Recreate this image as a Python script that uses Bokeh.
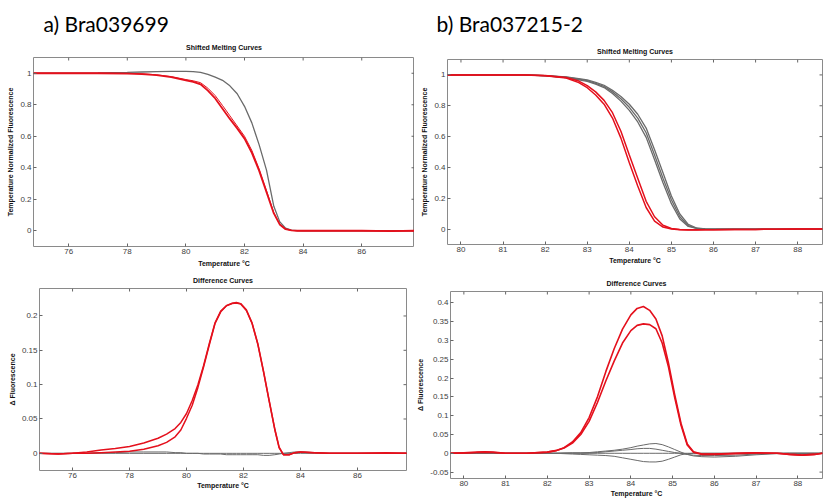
from bokeh.plotting import figure
from bokeh.layouts import row, column
from bokeh.models import FixedTicker, Title, Range1d
from bokeh.embed import file_html
from bokeh.resources import INLINE

# ---------------- data ----------------
# a) Bra039699 — shifted melting curves
a_melt_x = [74.8, 76.0, 77.0, 78.0, 78.5, 79.0, 79.5, 80.0, 80.25, 80.5, 80.75, 81.0, 81.25, 81.5,
            81.75, 82.0, 82.25, 82.5, 82.75, 83.0, 83.2, 83.4, 83.6, 83.8, 84.0, 85.0, 86.0, 87.0, 87.8]
a_melt_gray = [1.0, 1.0, 1.002, 1.005, 1.008, 1.01, 1.012, 1.012, 1.01, 1.005, 0.993, 0.975, 0.955, 0.92,
               0.87, 0.79, 0.685, 0.545, 0.385, 0.155, 0.058, 0.016, 0.004, 0.001, 0.0, 0.0, 0.0, 0.0, 0.0]
a_melt_red1 = [1.0, 1.0, 1.0, 0.998, 0.995, 0.988, 0.975, 0.955, 0.945, 0.93, 0.89, 0.84, 0.775, 0.71,
               0.65, 0.585, 0.495, 0.38, 0.245, 0.11, 0.04, 0.01, 0.002, 0.0, 0.0, 0.0, 0.0, -0.002, 0.0]
a_melt_red2 = [1.0, 1.0, 1.0, 0.999, 0.997, 0.99, 0.979, 0.96, 0.952, 0.94, 0.905, 0.858, 0.795, 0.73,
               0.665, 0.6, 0.51, 0.392, 0.255, 0.115, 0.043, 0.011, 0.002, 0.0, 0.0, 0.0, 0.0, 0.0, 0.0]

# a) Bra039699 — difference curves
a_diff_x = [74.8, 75.5, 76.0, 76.5, 77.0, 77.5, 78.0, 78.5, 79.0, 79.3, 79.6, 79.8, 80.0, 80.2, 80.4,
            80.6, 80.8, 81.0, 81.2, 81.4, 81.6, 81.75, 81.9, 82.1, 82.3, 82.5, 82.7, 82.9, 83.1, 83.25,
            83.4, 83.6, 83.8, 84.0, 84.5, 85.0, 86.0, 87.0, 87.8]
a_diff_red1 = [0.0, -0.001, 0.0, 0.002, 0.005, 0.007, 0.010, 0.015, 0.022, 0.028, 0.036, 0.045, 0.058,
               0.077, 0.1, 0.128, 0.16, 0.19, 0.207, 0.215, 0.2185, 0.2195, 0.218, 0.209, 0.19, 0.16,
               0.12, 0.077, 0.035, 0.009, -0.002, -0.002, 0.001, 0.002, 0.001, 0.0, 0.0, 0.001, 0.0]
a_diff_red2 = [0.0, -0.001, 0.0, 0.0, 0.001, 0.002, 0.003, 0.006, 0.011, 0.016, 0.024, 0.034, 0.051,
               0.07, 0.096, 0.126, 0.158, 0.189, 0.206, 0.215, 0.218, 0.219, 0.2175, 0.208, 0.189, 0.159,
               0.119, 0.076, 0.034, 0.008, -0.002, -0.002, 0.001, 0.002, 0.001, 0.0, 0.0, 0.0, 0.0]
a_diff_gray1 = [0.0] * 39
a_diff_gray2 = [0.0, 0.0, 0.0, 0.0, 0.001, 0.001, 0.002, 0.002, 0.002, 0.002, 0.001, 0.001, 0.0, 0.0,
                0.0, -0.001, -0.001, -0.001, -0.001, -0.002, -0.002, -0.002, -0.002, -0.002, -0.002,
                -0.002, -0.003, -0.003, -0.002, -0.001, 0.0, 0.001, 0.002, 0.002, 0.001, 0.0, 0.0, 0.0, 0.0]

# b) Bra037215-2 — shifted melting curves
b_melt_x = [79.68, 80.0, 80.5, 81.0, 81.5, 82.0, 82.5, 82.8, 83.0, 83.2, 83.4, 83.6, 83.8, 84.0, 84.2,
            84.4, 84.6, 84.8, 85.0, 85.2, 85.4, 85.6, 85.8, 86.0, 86.5, 87.0, 87.5, 88.0, 88.59]
b_melt_gray1 = [1.0, 1.0, 1.0, 1.0, 1.0, 0.994, 0.982, 0.968, 0.958, 0.94, 0.918, 0.88, 0.83, 0.77,
                0.695, 0.595, 0.45, 0.3, 0.165, 0.065, 0.017, 0.004, 0.001, 0.0, 0.0, 0.0, 0.0, 0.0, 0.0]
b_melt_gray2 = [1.0, 1.0, 1.0, 1.0, 1.0, 0.995, 0.985, 0.972, 0.963, 0.945, 0.925, 0.89, 0.845, 0.79,
                0.72, 0.625, 0.48, 0.33, 0.19, 0.08, 0.022, 0.005, 0.001, 0.0, 0.0, 0.0, 0.0, 0.0, 0.0]
b_melt_gray3 = [1.0, 1.0, 1.0, 1.0, 1.0, 0.996, 0.987, 0.976, 0.968, 0.952, 0.933, 0.9, 0.86, 0.81,
                0.745, 0.655, 0.515, 0.365, 0.215, 0.098, 0.03, 0.007, 0.002, 0.0, 0.0, 0.0, 0.0, 0.0, 0.0]
b_melt_red1 = [1.0, 1.0, 1.0, 1.0, 1.0, 0.995, 0.98, 0.95, 0.917, 0.87, 0.81, 0.72, 0.59, 0.43,
               0.28, 0.14, 0.052, 0.013, 0.0, -0.004, -0.006, -0.006, -0.005, -0.004, -0.003, -0.002,
               -0.001, 0.0, 0.0]
b_melt_red2 = [1.0, 1.0, 1.0, 1.0, 1.0, 0.997, 0.983, 0.96, 0.93, 0.89, 0.835, 0.755, 0.635, 0.48,
               0.33, 0.18, 0.08, 0.025, 0.004, -0.003, -0.005, -0.005, -0.004, -0.004, -0.003, -0.002,
               -0.001, 0.0, 0.0]

# b) Bra037215-2 — difference curves
b_diff_x = [79.68, 80.0, 80.3, 80.5, 80.7, 81.0, 81.5, 82.0, 82.2, 82.4, 82.6, 82.8, 83.0, 83.2, 83.4,
            83.6, 83.8, 84.0, 84.15, 84.3, 84.45, 84.6, 84.75, 84.9, 85.05, 85.2, 85.35, 85.5, 85.7,
            86.0, 86.5, 87.0, 87.5, 87.8, 88.1, 88.4, 88.59]
b_diff_red1 = [0.0, 0.001, 0.003, 0.004, 0.003, 0.0, 0.0, 0.003, 0.007, 0.015, 0.03, 0.055, 0.095,
               0.15, 0.217, 0.278, 0.33, 0.368, 0.385, 0.39, 0.38, 0.357, 0.312, 0.24, 0.156, 0.08,
               0.025, 0.004, -0.002, -0.002, 0.0, 0.001, 0.0, -0.003, -0.005, -0.003, 0.0]
b_diff_red2 = [0.0, 0.001, 0.002, 0.003, 0.002, 0.0, 0.0, 0.003, 0.007, 0.014, 0.027, 0.05, 0.085,
               0.135, 0.192, 0.245, 0.293, 0.326, 0.34, 0.344, 0.342, 0.331, 0.293, 0.23, 0.148, 0.075,
               0.022, 0.003, -0.003, -0.003, -0.001, 0.001, 0.0, -0.003, -0.005, -0.003, 0.0]
b_diff_gray1 = [0.0, 0.0, 0.0, 0.0, 0.0, 0.0, 0.0, 0.0, 0.0, 0.001, 0.001, 0.001, 0.002, 0.004, 0.006,
                0.008, 0.011, 0.015, 0.019, 0.022, 0.025, 0.026, 0.023, 0.017, 0.01, 0.003, -0.003,
                -0.007, -0.009, -0.01, -0.008, -0.004, -0.001, 0.0, 0.0, 0.0, 0.0]
b_diff_gray2 = [0.0, 0.0, 0.0, 0.0, 0.0, 0.0, 0.0, 0.0, 0.0, 0.0, 0.001, 0.001, 0.001, 0.002, 0.004,
                0.006, 0.008, 0.01, 0.012, 0.013, 0.013, 0.011, 0.008, 0.005, 0.002, 0.0, -0.003,
                -0.005, -0.006, -0.006, -0.005, -0.002, 0.0, 0.0, 0.0, 0.0, 0.0]
b_diff_gray3 = [0.0] * 37
b_diff_gray4 = [0.0, 0.0, 0.0, 0.0, 0.0, 0.0, 0.0, 0.0, 0.0, -0.001, -0.002, -0.003, -0.004, -0.005,
                -0.006, -0.008, -0.012, -0.016, -0.019, -0.022, -0.023, -0.023, -0.021, -0.016, -0.01,
                -0.004, -0.001, 0.0, 0.0, 0.0, 0.0, 0.0, 0.0, 0.0, 0.0, 0.0, 0.0]

# ticks
a_x_ticks = [76, 78, 80, 82, 84, 86]
b_x_ticks = [80, 81, 82, 83, 84, 85, 86, 87, 88]
melt_y_ticks = [0, 0.2, 0.4, 0.6, 0.8, 1]
melt_y_labels = ["0", "0.2", "0.4", "0.6", "0.8", "1"]
a_diff_y_ticks = [0, 0.05, 0.1, 0.15, 0.2]
a_diff_y_labels = ["0", "0.05", "0.1", "0.15", "0.2"]
b_diff_y_ticks = [-0.05, 0, 0.05, 0.1, 0.15, 0.2, 0.25, 0.3, 0.35, 0.4]
b_diff_y_labels = ["-0.05", "0", "0.05", "0.1", "0.15", "0.2", "0.25", "0.3", "0.35", "0.4"]

RED = "#e4101c"
GRAY = "#6a6a6a"
TICK = "#666666"
FONT = "Liberation Sans"


def style_axis(ax, ticks, labels=None):
    ax.ticker = FixedTicker(ticks=ticks)
    if labels is not None:
        ax.major_label_overrides = {t: l for t, l in zip(ticks, labels)}
    ax.major_tick_in = 3
    ax.major_tick_out = 0
    ax.major_tick_line_color = TICK
    ax.minor_tick_line_color = None
    ax.axis_line_color = None
    ax.major_label_text_font = FONT
    ax.major_label_text_font_size = "8px"
    ax.major_label_text_color = "#404040"
    ax.major_label_standoff = 2
    ax.axis_label_text_font = FONT
    ax.axis_label_text_font_size = "7px"
    ax.axis_label_text_font_style = "bold"
    ax.axis_label_text_color = "#111111"
    ax.axis_label_standoff = 3


def panel(width, height, bl, br, bt, bb, xr, yr, xt, yt, ylabels, title, ylabel, tstand,
          heading=None, hoff=0, hstand=0, xl_stand=3):
    p = figure(width=width, height=height, output_backend="svg", toolbar_location=None, title=None,
               x_range=Range1d(*xr), y_range=Range1d(*yr),
               min_border_left=bl, min_border_right=br, min_border_top=bt, min_border_bottom=bb)
    p.xgrid.visible = False
    p.ygrid.visible = False
    p.outline_line_color = "#8a8a8a"
    p.outline_line_width = 1
    p.background_fill_color = "white"
    p.border_fill_color = "white"
    style_axis(p.xaxis[0], xt)
    style_axis(p.yaxis[0], yt, ylabels)
    p.xaxis.axis_label = "Temperature °C"
    p.xaxis.axis_label_standoff = xl_stand
    p.yaxis.axis_label = ylabel
    # inward ticks on the top and right frame edges
    p.ray(x=xt, y=[yr[1]] * len(xt), length=3, angle=-90, angle_units="deg",
          length_units="screen", line_color=TICK, line_width=1)
    p.ray(x=[xr[1]] * len(yt), y=yt, length=3, angle=180, angle_units="deg",
          length_units="screen", line_color=TICK, line_width=1)
    p.add_layout(Title(text=title, text_font=FONT, text_font_size="7px", text_font_style="bold",
                       text_color="#111111", align="center", standoff=tstand), "above")
    if heading:
        p.add_layout(Title(text=heading, text_font="Lato", text_font_size="21px",
                           text_font_style="normal", text_color="#000000", align="left",
                           offset=hoff, standoff=hstand), "above")
    return p


pa1 = panel(414, 270, 33, 0, 57, 24, (74.8, 87.8), (-0.1, 1.1), a_x_ticks, melt_y_ticks, melt_y_labels,
            "Shifted Melting Curves", "Temperature Normalized Fluorescence", 13, "a) Bra039699", 10, 0)
pa1.line(a_melt_x, a_melt_gray, line_color=GRAY, line_width=1.3)
pa1.line(a_melt_x, a_melt_red2, line_color=RED, line_width=1.0)
pa1.line(a_melt_x, a_melt_red1, line_color=RED, line_width=1.8)

pb1 = panel(420, 270, 33, 12, 59, 26, (79.68, 88.59), (-0.1, 1.1), b_x_ticks, melt_y_ticks, melt_y_labels,
            "Shifted Melting Curves", "Temperature Normalized Fluorescence", 9, "b) Bra037215-2", -11, 12,
            xl_stand=2)
for g in (b_melt_gray1, b_melt_gray2, b_melt_gray3):
    pb1.line(b_melt_x, g, line_color=GRAY, line_width=1.3)
pb1.line(b_melt_x, b_melt_red1, line_color=RED, line_width=1.5)
pb1.line(b_melt_x, b_melt_red2, line_color=RED, line_width=1.5)

pa2 = panel(414, 234, 39, 8, 17, 34, (74.84, 87.72), (-0.025, 0.24), a_x_ticks, a_diff_y_ticks,
            a_diff_y_labels, "Difference Curves", "Δ Fluorescence", 9, xl_stand=1)
pa2.line(a_diff_x, a_diff_gray1, line_color=GRAY, line_width=1.0)
pa2.line(a_diff_x, a_diff_gray2, line_color=GRAY, line_width=1.0)
pa2.line(a_diff_x, a_diff_red2, line_color=RED, line_width=1.5)
pa2.line(a_diff_x, a_diff_red1, line_color=RED, line_width=1.5)

pb2 = panel(420, 234, 33, 12, 21, 26, (79.68, 88.59), (-0.067, 0.43), b_x_ticks, b_diff_y_ticks,
            b_diff_y_labels, "Difference Curves", "Δ Fluorescence", 9, xl_stand=1)
for g in (b_diff_gray1, b_diff_gray2, b_diff_gray3, b_diff_gray4):
    pb2.line(b_diff_x, g, line_color=GRAY, line_width=1.0)
pb2.line(b_diff_x, b_diff_red1, line_color=RED, line_width=1.6)
pb2.line(b_diff_x, b_diff_red2, line_color=RED, line_width=1.6)

layout = column(row(column(pa1), column(pb1)), row(column(pa2), column(pb2)))
open("out.html", "w").write(file_html(layout, INLINE))
